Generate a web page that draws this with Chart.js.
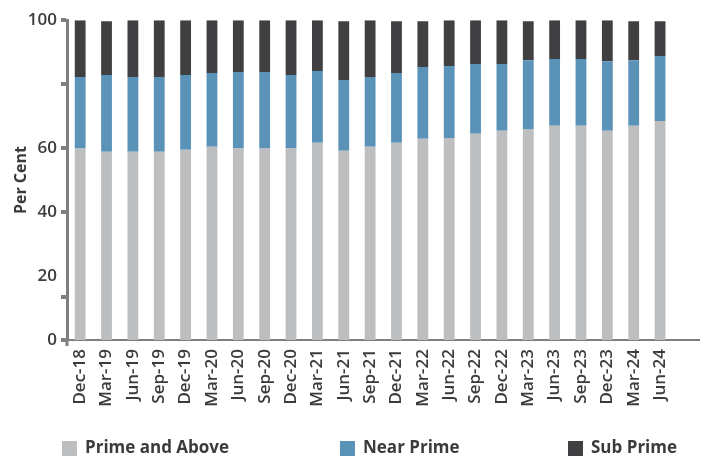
<!DOCTYPE html>
<html>
<head>
<meta charset="utf-8">
<script src="https://cdn.jsdelivr.net/npm/chart.js@4.4.1/dist/chart.umd.min.js"></script>
<style>
  html, body { margin: 0; padding: 0; background: #ffffff; }
  #wrap { position: relative; width: 716px; height: 457px; }
</style>
</head>
<body>
<div id="wrap"><canvas id="c" width="716" height="457"></canvas></div>
<script>
// Quarter-end labels
const quarters = ['Dec-18','Mar-19','Jun-19','Sep-19','Dec-19','Mar-20','Jun-20','Sep-20','Dec-20',
  'Mar-21','Jun-21','Sep-21','Dec-21','Mar-22','Jun-22','Sep-22','Dec-22','Mar-23','Jun-23',
  'Sep-23','Dec-23','Mar-24','Jun-24'];

// Share of borrowers by credit tier (per cent)
const primeAndAbove = [59.9,58.9,58.9,58.9,59.5,60.4,59.9,59.9,59.9,61.7,59.2,60.4,
  61.7,62.9,63.2,64.5,65.4,66.0,67.0,67.0,65.4,67.0,68.5];
const nearPrime = [22.3,24.0,23.3,23.3,23.4,23.1,23.9,23.9,23.0,22.4,22.1,21.8,
  21.8,22.5,22.5,21.8,20.9,21.5,20.9,20.9,21.8,20.5,20.3];
const subPrime = [17.8,16.8,17.8,17.8,17.1,16.5,16.2,16.2,17.1,15.9,18.4,17.8,
  16.2,14.3,14.3,13.7,13.7,12.2,12.1,12.1,12.8,12.2,10.9];

// Y axis: labelled values and the small marks along the axis line
const yLabelledTicks = [0, 20, 40, 60, 100];
const yTickMarks = [0, 13.3, 40, 60, 80, 100];

const textColor = '#3b3b3d';
const axisColor = '#7f7f7f';
const fontFamily = "'Open Sans', 'Noto Sans', sans-serif";

// Axis decorations: square tick marks on the y axis and a short overhang below the origin
const axisMarks = {
  id: 'axisMarks',
  afterDraw(chart) {
    const { ctx, chartArea, scales } = chart;
    const y = scales.y;
    ctx.save();
    ctx.fillStyle = axisColor;
    yTickMarks.forEach(v => {
      const py = y.getPixelForValue(v);
      ctx.fillRect(chartArea.left - 6, Math.round(py) - 2, 5, 4);
    });
    ctx.fillRect(chartArea.left - 1.5, chartArea.bottom, 3, 6);
    ctx.restore();
  }
};

// Legend row along the bottom edge
const bottomLegend = {
  id: 'bottomLegend',
  afterDraw(chart) {
    const { ctx } = chart;
    const starts = [62, 340, 568];
    ctx.save();
    ctx.font = `700 17px ${fontFamily}`;
    ctx.textBaseline = 'middle';
    ctx.textAlign = 'left';
    chart.data.datasets.forEach((ds, i) => {
      const x = starts[i];
      ctx.fillStyle = ds.backgroundColor;
      ctx.fillRect(x, 441, 15, 15);
      ctx.fillStyle = textColor;
      ctx.fillText(ds.label, x + 23, 448.5);
    });
    ctx.restore();
  }
};

new Chart(document.getElementById('c'), {
  type: 'bar',
  data: {
    // one spare slot after the last quarter leaves room at the right end of the axis
    labels: [...quarters, ''],
    datasets: [
      { label: 'Prime and Above', data: primeAndAbove, backgroundColor: '#bdbec0' },
      { label: 'Near Prime', data: nearPrime, backgroundColor: '#5a92b8' },
      { label: 'Sub Prime', data: subPrime, backgroundColor: '#404042' }
    ]
  },
  options: {
    responsive: false,
    animation: false,
    devicePixelRatio: 1,
    layout: { padding: { top: 19, right: 9, bottom: 47, left: 0 } },
    datasets: { bar: { barPercentage: 0.41, categoryPercentage: 1.0 } },
    plugins: {
      legend: { display: false },
      tooltip: { enabled: false }
    },
    scales: {
      x: {
        stacked: true,
        grid: { display: false, drawTicks: false },
        border: { display: true, color: axisColor, width: 2 },
        ticks: {
          autoSkip: false, maxRotation: 90, minRotation: 90, padding: 9,
          color: textColor, font: { family: fontFamily, size: 17, weight: '600' }
        },
        afterFit(scale) { scale.height = 70; }
      },
      y: {
        stacked: true,
        min: 0, max: 100,
        grid: { display: false, drawTicks: false },
        border: { display: true, color: axisColor, width: 3 },
        ticks: {
          stepSize: 20, padding: 10,
          color: textColor, font: { family: fontFamily, size: 17, weight: '600' },
          callback: v => (yLabelledTicks.includes(v) ? String(v) : '')
        },
        title: {
          display: true, text: 'Per Cent', color: textColor,
          font: { family: fontFamily, size: 16, weight: '700' },
          padding: { top: 12, bottom: 0 }
        },
        afterFit(scale) { scale.width = 67; }
      }
    }
  },
  plugins: [axisMarks, bottomLegend]
});
</script>
</body>
</html>
